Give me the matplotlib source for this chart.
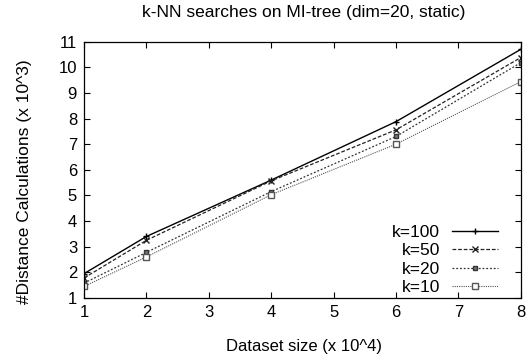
import matplotlib
matplotlib.use("Agg")
import matplotlib.pyplot as plt

plt.rcParams['font.family'] = ['Liberation Sans', 'DejaVu Sans']

x = [1, 2, 4, 6, 8]
k100 = [1.95, 3.4, 5.6, 7.88, 10.7]
k50 = [1.78, 3.25, 5.57, 7.56, 10.38]
k20 = [1.58, 2.78, 5.15, 7.3, 10.18]
k10 = [1.45, 2.6, 5.03, 7.0, 9.44]
labels = ["k=100", "k=50", "k=20", "k=10"]
xticks = [1, 2, 3, 4, 5, 6, 7, 8]
yticks = list(range(1, 12))

fig = plt.figure(figsize=(5.32, 3.56), dpi=100)
ax = fig.add_axes([0.158, 0.163, 0.821, 0.72])

ax.plot(x, k100, color='black', lw=1.0, ls='-', marker='+', ms=5, label=labels[0])
ax.plot(x, k50, color='#222222', lw=0.9, ls=(0, (3, 1.5)), marker='x', ms=4, label=labels[1])
ax.plot(x, k20, color='#333333', lw=0.9, ls=(0, (1.5, 1.5)), marker='s', ms=3.5, mfc='#777777', label=labels[2])
ax.plot(x, k10, color='#555555', lw=0.8, ls=(0, (1, 1)), marker='s', ms=4, mfc='white', label=labels[3])

ax.set_xlim(1, 8)
ax.set_ylim(1, 11)
ax.set_xticks(xticks)
ax.set_yticks(yticks)
ax.tick_params(direction='in', top=True, right=True, labelsize=12, length=4, pad=5)
for s in ax.spines.values():
    s.set_linewidth(0.9)

fig.text(0.57, 1 - 13/356, "k-NN searches on MI-tree (dim=20, static)", fontsize=12.5,
         ha='center', va='center')
fig.text(0.572, 1 - 347/356, "Dataset size (x 10^4)", fontsize=12, ha='center', va='center')
fig.text(25/532, 1 - 182/356, "#Distance Calculations (x 10^3)", fontsize=12.5,
         ha='center', va='center', rotation=90)

leg = ax.legend(loc='lower right', bbox_to_anchor=(0.948, 0.012), frameon=False, fontsize=12.5,
                markerfirst=False, handlelength=2.65, labelspacing=0.18, borderaxespad=0,
                borderpad=0, handletextpad=0.7)

fig.savefig("out.png", dpi=100)
